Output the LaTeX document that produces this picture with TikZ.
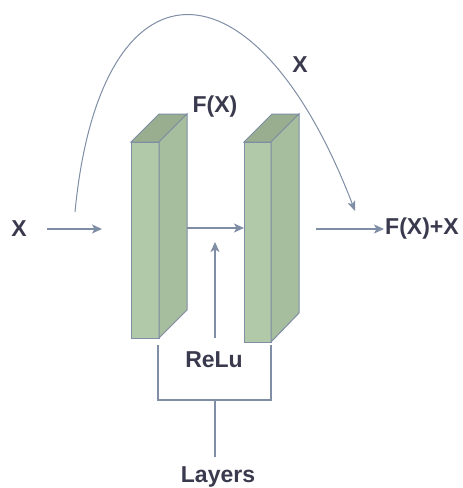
\documentclass[tikz,border=0pt]{standalone}
\usepackage{fontspec}
\setmainfont{Liberation Sans}
\usepackage{tikz}
\usetikzlibrary{positioning,arrows.meta}
\definecolor{linegray}{HTML}{7F8DA5}
\definecolor{textgray}{HTML}{3A3A4E}
\definecolor{frontgreen}{HTML}{B2C9A9}
\definecolor{sidegreen}{HTML}{A6BD9E}
\definecolor{topgreen}{HTML}{98AE8F}
\tikzset{
  flowarrow/.style={-{Stealth[length=10pt, width=9pt, inset=2.5pt]}, draw=linegray, line width=1.2pt},
  curvearrow/.style={-{Stealth[length=10pt, width=8pt, inset=2.5pt]}, draw=linegray, line width=1pt},
  bracketline/.style={draw=linegray, line width=2.4pt},
  frontface/.style={draw=linegray, line width=1pt, fill=frontgreen},
  sideface/.style={draw=linegray, line width=1pt, fill=sidegreen},
  topface/.style={draw=linegray, line width=1pt, fill=topgreen},
  lbl/.style={text=textgray, font=\fontsize{23}{25}\selectfont\bfseries, inner sep=1pt}
}

\begin{document}
\begin{tikzpicture}[x=1pt, y=-1pt]
  \useasboundingbox (0,0) rectangle (463,488);
  % first layer block
  \filldraw[frontface] (131,142) rectangle (159,338);
  \filldraw[topface] (131,142) -- (159,142) -- (187,114) -- (159,114) -- cycle;
  \filldraw[sideface] (159,142) -- (187,114) -- (187,310) -- (159,338) -- cycle;
  % second layer block
  \filldraw[frontface] (244,142) rectangle (271,342);
  \filldraw[topface] (244,142) -- (271,142) -- (299,114) -- (272,114) -- cycle;
  \filldraw[sideface] (271,142) -- (299,114) -- (299,313) -- (271,342) -- cycle;
  % labels
  \node[lbl] (xin) at (19,229) {X};
  \node[lbl] (xskip) at (300,65) {X};
  \node[lbl] (fx) at (215,107) {F(X)};
  \node[lbl, anchor=west] (out) at (384,229) {F(X)+X};
  \node[lbl] (relu) at (214,360) {ReLu};
  \node[lbl] (layers) at (218,477) {Layers};
  % connector ends
  \coordinate (instart) at (47,229);
  \coordinate (inend) at (102,229);
  \coordinate (b1side) at (187,228);
  \coordinate (b2front) at (244,228);
  \coordinate (outstart) at (316,229);
  \coordinate (skipstart) at (75,212);
  \coordinate (skipend) at (355,211);
  \coordinate (relustart) at (215,338);
  \coordinate (reluend) at (215,242);
  \coordinate (brl) at (158,345);
  \coordinate (brr) at (271,345);
  \coordinate (brmid) at (215,400);
  \coordinate (stemend) at (215,457);
  % arrows
  \draw[flowarrow] (instart) -- (inend);
  \draw[flowarrow] (b1side) -- (b2front);
  \draw[flowarrow] (outstart) -- (out.west);
  \draw[flowarrow] (relustart) -- (reluend);
  \draw[curvearrow] (skipstart) .. controls (100,-50) and (255,-50) .. (skipend);
  % bracket
  \draw[bracketline] (brl) |- (brmid) -| (brr);
  \draw[bracketline] (brmid) -- (stemend);
\end{tikzpicture}
\end{document}
